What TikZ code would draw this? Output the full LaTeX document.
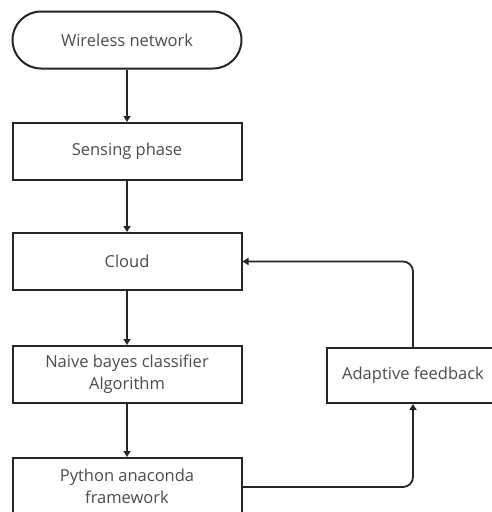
\documentclass[tikz,border=0pt]{standalone}
\usepackage{fontspec}
\setmainfont{Open Sans}
\usetikzlibrary{arrows.meta,shapes.misc}
\begin{document}
\begin{tikzpicture}[x=1pt,y=-1pt,
  box/.style={draw=black!85,line width=2pt,minimum width=229pt,minimum height=57pt,inner sep=0pt,text=black!70,font=\fontsize{16.5}{22}\selectfont,align=center},
  term/.style={box,rounded rectangle},
  conn/.style={draw=black!85,line width=1.8pt,-{Triangle[length=6pt,width=7pt]},rounded corners=10pt}]
\clip (0,0) rectangle (492,512);
\fill[white] (0,0) rectangle (492,512);
\node[term] (wn) at (127,40) {Wireless network};
\node[box] (sp) at (127,151.5) {Sensing phase};
\node[box] (cl) at (127,261.5) {Cloud};
\node[box] (nb) at (127,374.5) {Naive bayes classifier\\Algorithm};
\node[box] (py) at (127,486.5) {Python anaconda\\framework};
\node[box,minimum width=172pt,minimum height=55pt] (af) at (413,375.5) {Adaptive feedback};
\draw[conn] (wn) -- (sp);
\draw[conn] (sp) -- (cl);
\draw[conn] (cl) -- (nb);
\draw[conn] (nb) -- (py);
\draw[conn] (py.east |- 0,487) -| (af.south);
\draw[conn] (af.north) |- (cl.east);
\end{tikzpicture}
\end{document}
